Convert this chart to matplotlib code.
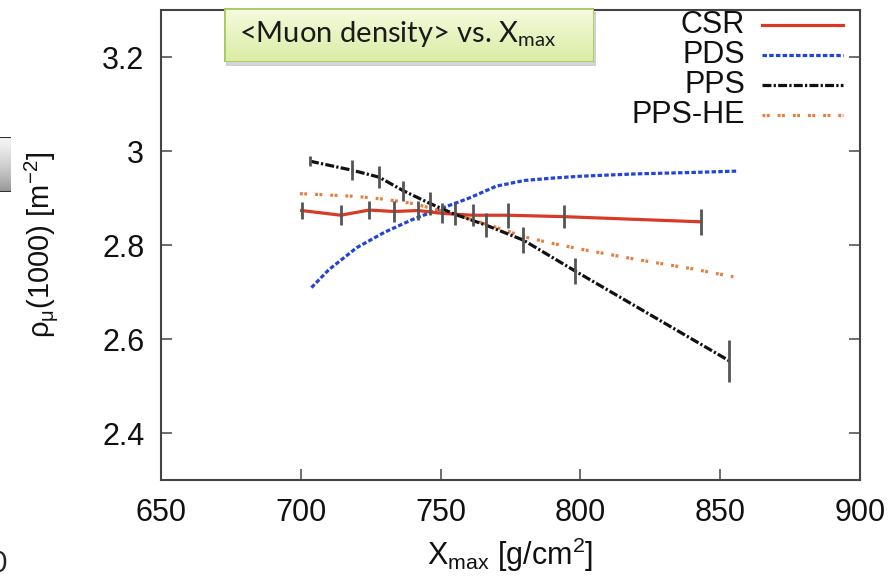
import numpy as np
import matplotlib.pyplot as plt
from matplotlib.patches import Rectangle

# mean muon density at 1000 m vs. Xmax for the different models
csr_x = [700.3, 714.3, 724.4, 733.3, 742.0, 750.4, 761.5, 774.2, 794.0, 843.0]
csr_y = [2.874, 2.864, 2.875, 2.872, 2.874, 2.868, 2.864, 2.864, 2.861, 2.850]
csr_err = [0.018, 0.021, 0.020, 0.023, 0.021, 0.021, 0.023, 0.027, 0.025, 0.028]

pps_x = [703.3, 718.2, 728.0, 736.7, 746.2, 755.1, 766.2, 779.6, 798.2, 853.3]
pps_y = [2.979, 2.960, 2.945, 2.916, 2.889, 2.866, 2.843, 2.811, 2.745, 2.554]
pps_err = [0.011, 0.021, 0.023, 0.021, 0.025, 0.023, 0.025, 0.028, 0.028, 0.044]

pds_x = [703.8, 710, 720, 730, 740, 750, 760, 770, 780, 790, 800, 820, 840, 856.5]
pds_y = [2.710, 2.748, 2.795, 2.828, 2.855, 2.878, 2.900, 2.926, 2.938, 2.943,
         2.947, 2.952, 2.955, 2.958]

ppshe_x = [699.7, 710, 720, 730, 740, 750, 760, 770, 780, 790, 800, 820, 840, 854.7]
ppshe_y = [2.910, 2.907, 2.904, 2.898, 2.889, 2.874, 2.857, 2.838, 2.818, 2.804,
           2.792, 2.770, 2.750, 2.733]

labels = ["CSR", "PDS", "PPS", "PPS-HE"]

plt.rcParams['font.family'] = ['Liberation Sans', 'DejaVu Sans']
plt.rcParams['mathtext.default'] = 'regular'

fig = plt.figure(figsize=(8.89, 5.77), dpi=100)
ax = fig.add_axes([0.1811, 0.1676, 0.7863, 0.8145])

red = '#d83a26'
blue = '#2244d8'
orange = '#e4803f'
lw = 2.3

styles = [
    dict(color=red, lw=lw, ls='-'),
    dict(color=blue, lw=lw, ls=(0, (1.4, 0.7))),
    dict(color='#111111', lw=lw, ls=(0, (2.8, 0.7, 0.7, 0.7))),
    dict(color=orange, lw=lw, ls=(0, (0.9, 0.45, 0.9, 2.5))),
]

ax.plot(pds_x, pds_y, **styles[1])
ax.plot(ppshe_x, ppshe_y, **styles[3])
ax.plot(csr_x, csr_y, **styles[0])
ax.plot(pps_x, pps_y, **styles[2])
ax.errorbar(csr_x, csr_y, yerr=csr_err, fmt='none', ecolor='#555555',
            elinewidth=2, capsize=0, zorder=4)
ax.errorbar(pps_x, pps_y, yerr=pps_err, fmt='none', ecolor='#555555',
            elinewidth=2, capsize=0, zorder=4)

ax.set_xlim(650, 900)
ax.set_ylim(2.3, 3.3)
ax.set_xticks([650, 700, 750, 800, 850, 900])
ax.set_yticks([2.4, 2.6, 2.8, 3.0, 3.2])
ax.set_yticklabels(['2.4', '2.6', '2.8', '3', '3.2'])
ax.tick_params(direction='in', length=8, width=1.2, labelsize=22,
               right=True, top=False, colors='#555555', labelcolor='#111111')
ax.tick_params(axis='x', pad=13)
ax.tick_params(axis='y', pad=12)
for s in ax.spines.values():
    s.set_color('#444444')
    s.set_linewidth(1.5)

ax.set_xlabel(r'X$_{max}$ [g/cm$^{2}$]', fontsize=22, labelpad=5, color='#111111')
ax.set_ylabel(r'$\rho_{\mu}$(1000) [m$^{-2}$]', fontsize=21, labelpad=30, color='#111111')

# key: right-aligned names with line samples
key_y = [0.969, 0.905, 0.841, 0.777]
for name, st, ky in zip(labels, styles, key_y):
    ax.text(0.8355, ky, name, transform=ax.transAxes, ha='right', va='center',
            fontsize=22, color='#111111')
    ax.plot([0.860, 0.976], [ky, ky], transform=ax.transAxes, clip_on=False, **st)

# title box with a light green gradient
shadow = fig.add_axes([0.254, 0.886, 0.416, 0.0936])
shadow.add_patch(Rectangle((0, 0), 1, 1, color='#b8b8b8', alpha=0.6))
shadow.set_axis_off()
box = fig.add_axes([0.252, 0.8925, 0.416, 0.0936])
grad = np.linspace(0, 1, 64)[:, None]
box.imshow(grad, cmap=plt.matplotlib.colors.LinearSegmentedColormap.from_list(
    'g', ['#f6fbdf', '#d9eca4']), aspect='auto', extent=(0, 1, 0, 1), origin='upper')
box.add_patch(Rectangle((0, 0), 1, 1, fill=False, ec='#a9c861', lw=2))
box.set_xlim(0, 1)
box.set_ylim(0, 1)
box.set_axis_off()
box.text(0.04, 0.52, r'<Muon density> vs. X$_{max}$', fontsize=21, family='Lato',
         va='center', ha='left', color='#1a1a1a')

# bits of the neighbouring slide at the left margin
edge = fig.add_axes([0.0, 1 - 192 / 577, 11 / 889, 55 / 577])
edge.imshow(np.linspace(0, 1, 32)[:, None], cmap='Greys', vmin=-0.2, vmax=2.2,
            aspect='auto', extent=(0, 1, 0, 1), origin='upper')
edge.plot([0, 1], [1, 1], color='#333333', lw=1.5)
edge.plot([0, 1], [0, 0], color='#333333', lw=1.5)
edge.set_xlim(0, 1)
edge.set_ylim(0, 1)
edge.set_axis_off()
fig.text(-0.011, 0.0, '0', fontsize=20, family='Lato', color='#222222',
         ha='left', va='bottom')

fig.savefig('out.png', dpi=100)
